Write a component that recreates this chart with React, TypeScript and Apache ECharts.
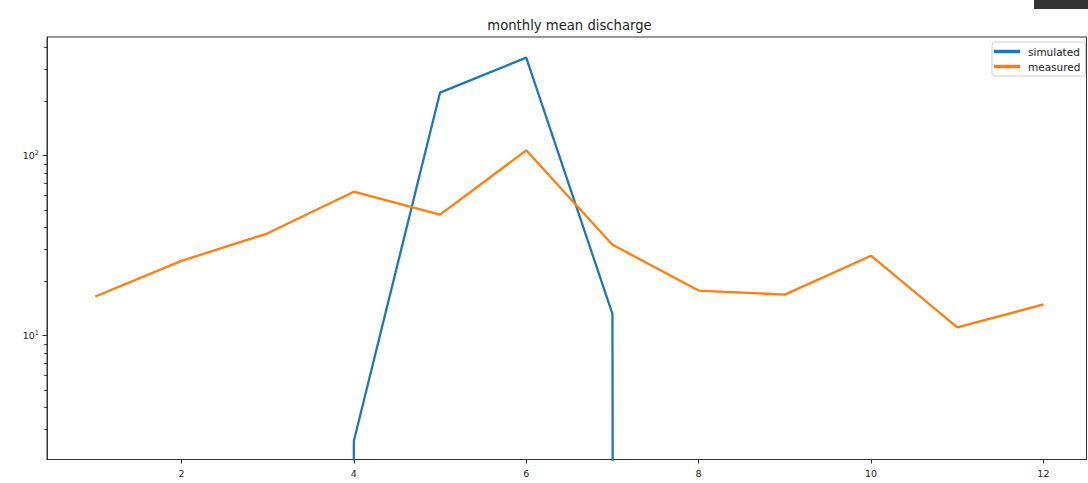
import React, { useEffect, useRef } from "react";
import * as echarts from "echarts";

const months = [1, 2, 3, 4, 5, 6, 7, 8, 9, 10, 11, 12];
const simulated = [0, 0, 0, 2.6, 224, 350, 13.2, 0, 0, 0, 0, 0];
const measured = [16.5, 26, 37, 63, 47, 107, 32, 17.8, 16.9, 27.8, 11.1, 14.9];
const xTicks = [2, 4, 6, 8, 10, 12];
const yMajorTicks = [10, 100];
const yMinorTicks = [3, 4, 5, 6, 7, 8, 9, 20, 30, 40, 50, 60, 70, 80, 90, 200, 300, 400];

const Y_MIN = 2.05;
const Y_MAX = 456;
const X_MIN = 0.44;
const X_MAX = 12.5;

export default function App() {
  const ref = useRef<HTMLDivElement>(null);
  useEffect(() => {
    if (!ref.current) return;
    const chart = echarts.init(ref.current, undefined, { renderer: "svg" });
    const font = "DejaVu Sans";
    const axisColor = "#333";
    chart.setOption({
      animation: false,
      backgroundColor: "#fff",
      title: {
        text: "monthly mean discharge",
        left: 564.5,
        textAlign: "center",
        top: 14,
        textStyle: { fontFamily: font, fontSize: 13.2, fontWeight: "normal", color: "#222" },
      },
      legend: {
        orient: "vertical",
        left: 992,
        top: 42,
        padding: [4, 5, 4, 2],
        itemGap: 4,
        itemWidth: 26,
        itemHeight: 3.5,
        icon: "rect",
        borderColor: "#d0d0d0",
        borderWidth: 1,
        borderRadius: 3,
        backgroundColor: "rgba(255,255,255,0.8)",
        textStyle: { fontFamily: font, fontSize: 10.5, color: "#222", padding: [0, 0, 0, 3] },
        data: ["simulated", "measured"],
      },
      grid: {
        left: 47,
        top: 37,
        right: 1.5,
        bottom: 23.5,
        show: true,
        borderColor: axisColor,
        borderWidth: 1,
        backgroundColor: "transparent",
      },
      xAxis: {
        type: "value",
        min: X_MIN,
        max: X_MAX,
        axisLine: { show: true, lineStyle: { color: axisColor, width: 1 } },
        axisTick: { show: true, length: 4, customValues: xTicks, lineStyle: { color: axisColor } },
        axisLabel: {
          customValues: xTicks,
          margin: 9,
          fontFamily: font,
          fontSize: 9.5,
          color: "#222",
        },
        splitLine: { show: false },
      },
      yAxis: [
        {
          type: "log",
          logBase: 10,
          min: Y_MIN,
          max: Y_MAX,
          position: "left",
          axisLine: { show: true, lineStyle: { color: axisColor, width: 1 } },
          axisTick: { show: true, length: 4.5, customValues: yMajorTicks, lineStyle: { color: axisColor } },
          axisLabel: {
            customValues: yMajorTicks,
            margin: 8,
            color: "#222",
            formatter: (v: number) => "{b|10}{s|" + Math.round(Math.log10(v)) + "}",
            rich: {
              b: { fontFamily: font, fontSize: 9.5, color: "#222", lineHeight: 12 },
              s: { fontFamily: font, fontSize: 6.5, color: "#222", verticalAlign: "top", lineHeight: 8 },
            },
          },
          splitLine: { show: false },
        },
        {
          type: "log",
          logBase: 10,
          min: Y_MIN,
          max: Y_MAX,
          position: "left",
          axisLine: { show: false },
          axisTick: { show: true, length: 2.8, customValues: yMinorTicks, lineStyle: { color: axisColor } },
          axisLabel: { show: false, customValues: yMinorTicks },
          splitLine: { show: false },
        },
      ],
      graphic: [
        { type: "rect", left: 1034, top: 0, shape: { width: 54, height: 9 }, style: { fill: "#333" }, z: 100 },
      ],
      series: [
        {
          name: "simulated",
          type: "line",
          yAxisIndex: 0,
          showSymbol: false,
          clip: true,
          color: "#1f77b4",
          lineStyle: { color: "#1f77b4", width: 2.3 },
          data: months.map((m, i) => [m, simulated[i] > 0 ? simulated[i] : 1e-300]),
        },
        {
          name: "measured",
          type: "line",
          yAxisIndex: 0,
          showSymbol: false,
          clip: true,
          color: "#ff7f0e",
          lineStyle: { color: "#ff7f0e", width: 2.3 },
          data: months.map((m, i) => [m, measured[i]]),
        },
      ],
    });
    return () => chart.dispose();
  }, []);
  return (
    <div
      ref={ref}
      style={{ position: "fixed", left: 0, top: 0, width: 1088, height: 483, background: "#fff" }}
    />
  );
}
